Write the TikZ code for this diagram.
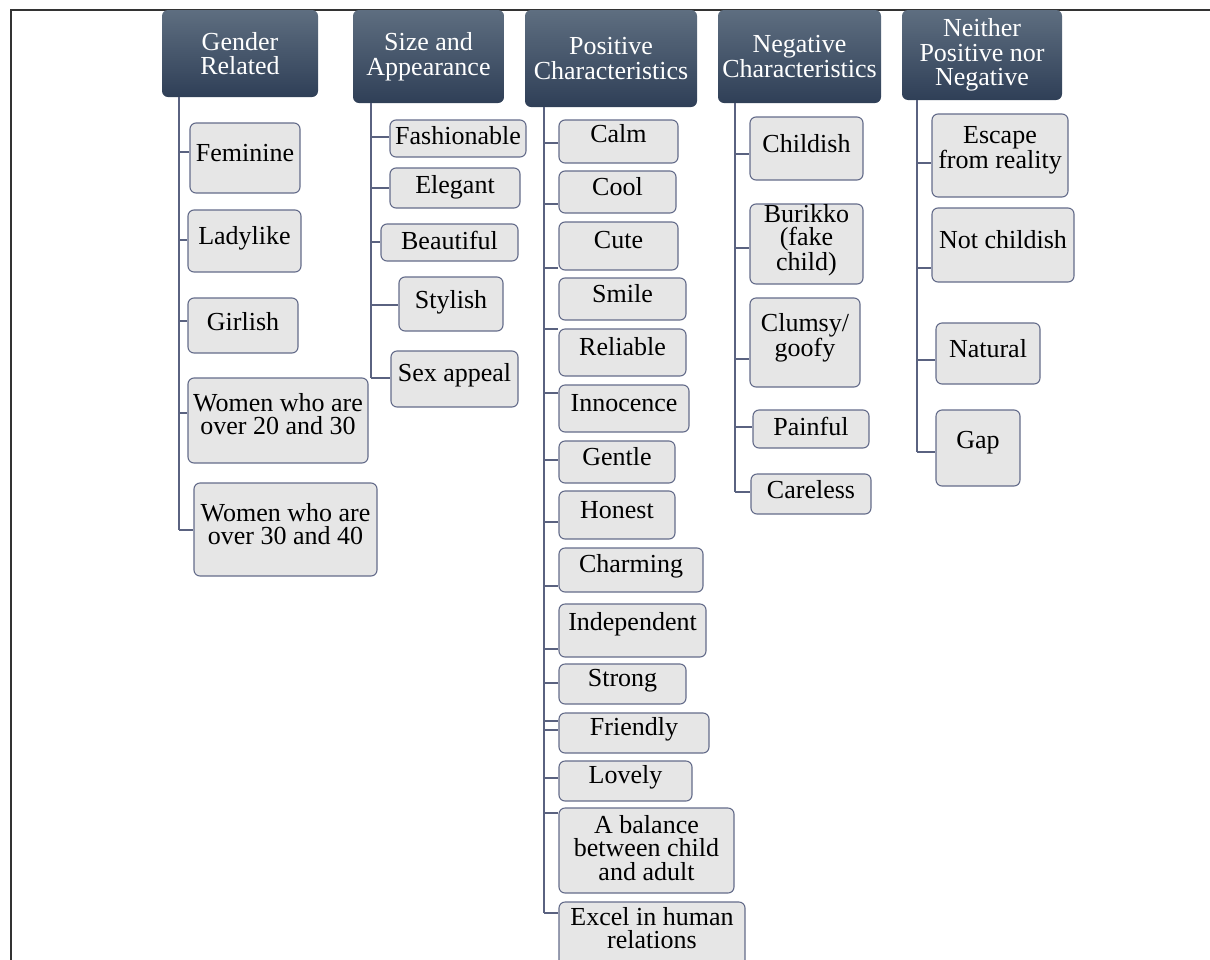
\documentclass[tikz,border=0pt]{standalone}
\usepackage{fontspec}
\setmainfont{Liberation Serif}
\definecolor{hdtop}{HTML}{5E6E80}
\definecolor{hdbot}{HTML}{2F3F57}
\definecolor{bxfill}{HTML}{E6E6E6}
\definecolor{bxline}{HTML}{646C8A}
\definecolor{lncol}{HTML}{5A6280}
\tikzset{
 hdr/.style={rounded corners=6pt, top color=hdtop, bottom color=hdbot, draw=none, text=white, align=center, font=\fontsize{26}{24.5}\selectfont, inner sep=0pt},
 bx/.style={rounded corners=6pt, fill=bxfill, draw=bxline, line width=1.1pt, inner sep=0pt},
 txt/.style={align=center, font=\fontsize{26}{23.5}\selectfont, inner sep=0pt},
 conn/.style={draw=lncol, line width=1.3pt},
 frameline/.style={draw=black!80, line width=2pt}
}
\newcommand\bx[7]{\node[bx, minimum width={#4-#2}, minimum height={#5-#3}] (#1) at ({(#2+#4)/2},{(#3+#5)/2}) {};
\node[txt] (#1t) at ({(#2+#4)/2},#6) {#7};}
\newcommand\hd[6]{\node[hdr, minimum width={#4-#2}, minimum height={#5-#3}] (#1) at ({(#2+#4)/2},{(#3+#5)/2}) {#6};}
\begin{document}
\begin{tikzpicture}[x=1pt,y=-1pt]
\useasboundingbox (0,0) rectangle (1210,959);
\clip (0,0) rectangle (1210,959);
% frame
\coordinate (fbl) at (11,962);
\coordinate (ftl) at (11,10);
\coordinate (ftr) at (1212,10);
\draw[frameline] (fbl) -- (ftl) -- (ftr);
% trunk ends
\coordinate (gtr) at (179,530);
\coordinate (str) at (371,378);
\coordinate (ptr) at (544,913);
\coordinate (ntr) at (735,492);
\coordinate (etr) at (917,452);
% headers
\hd{gh}{162}{10}{318}{97}{Gender\\Related}
\hd{sh}{353}{10}{504}{103}{Size and\\Appearance}
\hd{ph}{525}{10}{697}{107}{Positive\\Characteristics}
\hd{nh}{718}{10}{881}{103}{Negative\\Characteristics}
\hd{eh}{902}{10}{1062}{100}{Neither\\Positive nor\\Negative}
% trunks
\draw[conn] (gh.south -| gtr) -- (gtr);
\draw[conn] (sh.south -| str) -- (str);
\draw[conn] (ph.south -| ptr) -- (ptr);
\draw[conn] (nh.south -| ntr) -- (ntr);
\draw[conn] (eh.south -| etr) -- (etr);
% Gender Related
\bx{fem}{190}{123}{300}{193}{153}{Feminine}
\bx{lad}{188}{210}{301}{272}{238}{Ladylike}
\bx{gir}{188}{298}{298}{353}{322}{Girlish}
\bx{wtw}{188}{378}{368}{463}{414}{Women who are\\over 20 and 30}
\bx{wth}{194}{483}{377}{576}{524}{Women who are\\over 30 and 40}
\draw[conn] (gtr |- 0,152) -- (fem.west |- 0,152);
\draw[conn] (gtr |- 0,240) -- (lad.west |- 0,240);
\draw[conn] (gtr |- 0,321) -- (gir.west |- 0,321);
\draw[conn] (gtr |- 0,413) -- (wtw.west |- 0,413);
\draw[conn] (gtr) -- (wth.west |- gtr);
% Size and Appearance
\bx{fas}{390}{120}{526}{157}{136}{Fashionable}
\bx{ele}{390}{168}{520}{208}{187}{Elegant}
\bx{bea}{381}{224}{518}{261}{240}{Beautiful}
\bx{sty}{399}{277}{503}{331}{302}{Stylish}
\bx{sex}{391}{351}{518}{407}{375}{Sex appeal}
\draw[conn] (str |- 0,137) -- (fas.west |- 0,137);
\draw[conn] (str |- 0,188) -- (ele.west |- 0,188);
\draw[conn] (str |- 0,242) -- (bea.west |- 0,242);
\draw[conn] (str |- 0,305) -- (sty.west |- 0,305);
\draw[conn] (str) -- (sex.west |- str);
% Positive Characteristics
\bx{cal}{559}{120}{678}{163}{134}{Calm}
\bx{coo}{559}{171}{676}{213}{187}{Cool}
\bx{cut}{559}{222}{678}{270}{240}{Cute}
\bx{smi}{559}{278}{686}{320}{294}{Smile}
\bx{rel}{559}{329}{686}{376}{347}{Reliable}
\bx{inn}{559}{385}{689}{432}{403}{Innocence}
\bx{gen}{559}{441}{675}{483}{457}{Gentle}
\bx{hon}{559}{491}{675}{539}{510}{Honest}
\bx{cha}{559}{548}{703}{592}{566}{Charming}
\bx{ind}{559}{604}{706}{657}{624}{Independent}
\bx{stg}{559}{664}{686}{704}{681}{Strong}
\bx{fri}{559}{713}{709}{753}{729}{Friendly}
\bx{lov}{559}{761}{692}{801}{777}{Lovely}
\bx{bal}{559}{808}{734}{893}{848}{A balance\\between child\\and adult}
\bx{exc}{559}{902}{745}{985}{928}{Excel in human\\relations}
\draw[conn] (ptr |- 0,143) -- (cal.west |- 0,143);
\draw[conn] (ptr |- 0,204) -- (coo.west |- 0,204);
\draw[conn] (ptr |- 0,268) -- (cut.west |- 0,268);
\draw[conn] (ptr |- 0,329) -- (smi.west |- 0,329);
\draw[conn] (ptr |- 0,393) -- (inn.west |- 0,393);
\draw[conn] (ptr |- 0,460) -- (gen.west |- 0,460);
\draw[conn] (ptr |- 0,522) -- (hon.west |- 0,522);
\draw[conn] (ptr |- 0,586) -- (cha.west |- 0,586);
\draw[conn] (ptr |- 0,649) -- (ind.west |- 0,649);
\draw[conn] (ptr |- 0,683) -- (stg.west |- 0,683);
\draw[conn] (ptr |- 0,721) -- (fri.west |- 0,721);
\draw[conn] (ptr |- 0,730) -- (fri.west |- 0,730);
\draw[conn] (ptr |- 0,778) -- (lov.west |- 0,778);
\draw[conn] (ptr |- 0,813) -- (bal.west |- 0,813);
\draw[conn] (ptr) -- (exc.west |- ptr);
% Negative Characteristics
\bx{chi}{750}{117}{863}{180}{144}{Childish}
\bx{bur}{750}{204}{863}{284}{240}{Burikko\\(fake\\child)}
\bx{clu}{750}{298}{860}{387}{338}{Clumsy/\\goofy}
\bx{pai}{753}{410}{869}{448}{426}{Painful}
\bx{car}{751}{474}{871}{514}{490}{Careless}
\draw[conn] (ntr |- 0,154) -- (chi.west |- 0,154);
\draw[conn] (ntr |- 0,248) -- (bur.west |- 0,248);
\draw[conn] (ntr |- 0,359) -- (clu.west |- 0,359);
\draw[conn] (ntr |- 0,427) -- (pai.west |- 0,427);
\draw[conn] (ntr) -- (car.west |- ntr);
% Neither
\bx{esc}{932}{114}{1068}{197}{150}{Escape\\from reality}
\bx{nch}{932}{208}{1074}{282}{240}{Not childish}
\bx{nat}{936}{323}{1040}{384}{349}{Natural}
\bx{gap}{936}{410}{1020}{486}{443}{Gap}
\draw[conn] (etr |- 0,163) -- (esc.west |- 0,163);
\draw[conn] (etr |- 0,268) -- (nch.west |- 0,268);
\draw[conn] (etr |- 0,360) -- (nat.west |- 0,360);
\draw[conn] (etr) -- (gap.west |- etr);
\end{tikzpicture}
\end{document}
